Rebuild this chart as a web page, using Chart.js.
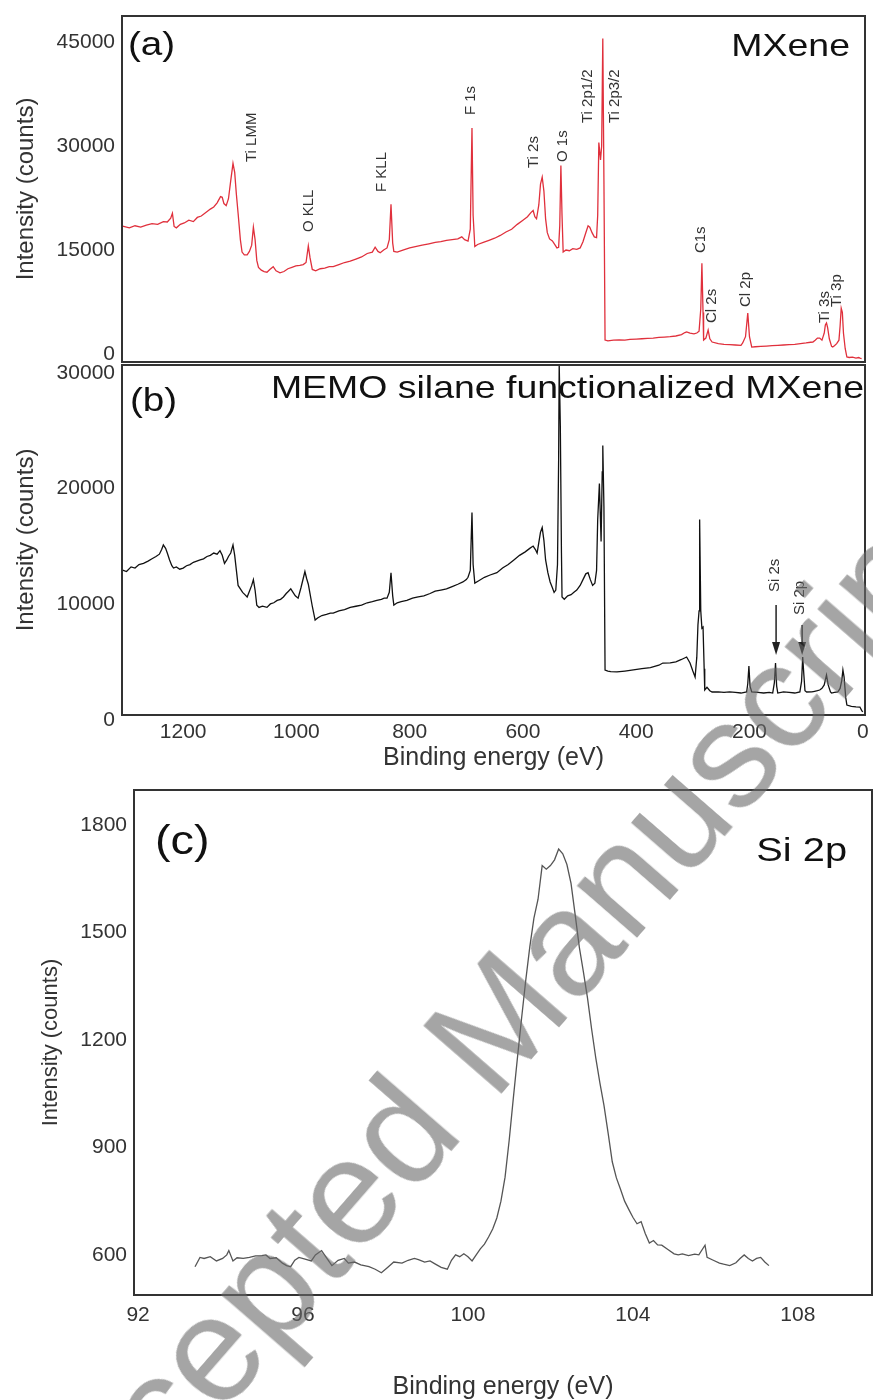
<!DOCTYPE html>
<html><head><meta charset="utf-8">
<script src="https://cdn.jsdelivr.net/npm/chart.js@4.4.1/dist/chart.umd.min.js"></script>
<style>
html,body{margin:0;padding:0;background:#fff;width:873px;height:1400px;overflow:hidden;position:relative;}
canvas{position:absolute;left:0;}
#wm{position:absolute;left:-40px;top:1523px;font-family:"Liberation Sans",Arial,sans-serif;font-size:150px;line-height:1;white-space:nowrap;color:rgba(105,105,105,0.6);transform-origin:0 0;transform:rotate(-49deg);pointer-events:none;}
</style></head><body>
<canvas id="ca" width="873" height="370" style="top:0px"></canvas>
<canvas id="cb" width="873" height="417" style="top:363px"></canvas>
<canvas id="cc" width="873" height="617" style="top:785px"></canvas>
<div id="wm">Accepted Manuscript</div>
<script>
// ---------- tick values ----------
const surveyEnergyTicks = [1200, 1000, 800, 600, 400, 200, 0];
const mxeneCountTicks = [0, 15000, 30000, 45000];
const memoCountTicks = [0, 10000, 20000, 30000];
const si2pEnergyTicks = [92, 96, 100, 104, 108];
const si2pCountTicks = [600, 900, 1200, 1500, 1800];

// ---------- (a) MXene survey ----------
const mxeneEnergy = [1307,1295,1285,1275,1265,1255,1245,1235,1228,1222,1219,1216,1212,1205,1198,1190,1182,1175,1168,1160,1152,1146,1140,1134,1131,1128,1124,1120,1116,1112,1109,1106,1103,1099,1096,1092,1087,1083,1079,1076,1073,1070,1067,1062,1057,1052,1047,1041,1036,1029,1022,1015,1008,1001,994,988,983,979,976,972,966,958,950,942,935,925,915,905,895,885,875,866,861,856,852,846,840,836,833,830,828,822,812,800,790,778,766,755,745,735,725,715,708,703,697,693,690,688,685,680,670,660,650,640,630,620,610,600,592,586,582,579,576,572,569,566,563,560,557,553,548,544,540,537,535,533,531,529,524,518,512,505,499,494,489,485,482,478,474,470,468,466,463,461,459,457,455,450,440,430,420,411,400,390,380,370,360,350,340,330,320,314,311,305,298,293,289,286,284,282,281,277,273,270,266,255,245,235,225,215,212,207,203,200,196,190,180,170,160,150,140,130,120,110,100,92,88,84,80,76,72,68,66,64,62,59,55,53,50,46,42,40,38,36,34,31,28,24,18,12,7,5,2];
const mxeneCounts = [18460,18200,18500,18300,18600,18800,18700,19100,19040,19600,20300,18400,18200,18700,18900,19300,19100,19700,19900,20400,20900,21200,21800,22700,22600,21700,21400,22400,25000,27500,26200,23000,20300,16500,14700,14300,14300,14800,15700,18300,16500,13500,12500,12100,11900,11800,12200,12600,12000,11700,11900,12300,12500,12700,12800,12900,13200,15600,13900,12200,12000,12300,12400,12600,12600,12900,13200,13400,13700,14000,14500,14700,15400,14800,14600,15000,15300,16500,21600,16000,14800,14700,15000,15300,15500,15700,15900,16100,16200,16400,16500,16600,16900,16500,16300,18000,32600,20000,15500,15800,16100,16400,16700,17100,17600,18000,18700,19300,19800,20400,20700,19800,19500,21500,24500,25500,23500,19500,17500,16600,16300,15800,15300,15400,18500,27200,20000,14700,15000,14900,15200,15100,15300,16200,17500,18500,18300,17500,16900,16800,20000,30500,28000,30000,45500,25000,2020,1900,2000,2050,2000,2100,2150,2200,2250,2300,2400,2450,2500,2600,2800,3100,3200,3000,2900,3030,3300,6500,13100,6000,2020,2300,3460,2200,1730,1500,1400,1350,1300,1250,1590,2500,5900,2500,1010,1050,1100,1150,1200,1250,1300,1350,1400,1500,1600,1700,1730,2000,2300,2300,2000,3000,4200,4470,3800,2200,1100,1010,1200,1500,2000,4000,6600,6000,3000,800,-430,-500,-450,-580,-500,-580,-650];

// ---------- (b) MEMO silane functionalized MXene survey ----------
const memoEnergy = [1307,1300,1292,1285,1278,1270,1262,1255,1248,1242,1238,1235,1231,1228,1224,1220,1217,1212,1206,1200,1194,1188,1182,1176,1170,1164,1158,1152,1146,1140,1135,1131,1127,1123,1120,1116,1112,1109,1106,1103,1099,1095,1091,1087,1083,1079,1076,1073,1070,1066,1060,1052,1046,1040,1034,1028,1023,1018,1014,1010,1006,1002,997,992,988,985,982,979,976,972,967,962,955,947,940,935,925,915,905,895,885,875,866,858,850,845,840,836,833,830,828,822,815,805,795,785,775,764,755,745,735,725,715,706,700,697,693,690,688,685,678,668,658,646,636,626,616,606,596,588,582,578,575,572,569,566,563,560,556,552,548,545,542,539,537,536,534,532,531,527,521,515,510,505,499,494,489,485,481,477,473,470,468,465,462,460,459,457,455,450,445,434,420,405,390,375,360,353,340,330,320,311,305,300,296,293,291,289,288,286,284,282,280,279,275,270,266,255,245,235,225,215,205,203,201,199,196,185,175,165,159,156,154,152,150,140,130,120,111,108,106,104,102,99,90,85,80,76,72,68,64,61,57,55,50,44,40,37,35,33,30,28,20,12,5,2,0];
const memoCounts = [12530,12400,12800,12700,13000,13100,13300,13500,13700,13900,14300,14700,14400,14000,13400,12900,12700,12800,12600,12700,12900,13000,13200,13300,13400,13500,13700,13800,14000,13900,14200,13800,13100,13400,13700,14000,14700,13800,12500,11200,10900,10600,10400,10200,10700,11200,11700,10800,9500,9300,9400,9300,9600,9700,9900,10000,10200,10500,10700,10900,10600,10300,10100,11000,11800,12400,11800,11300,10500,9400,8200,8400,8600,8700,8800,8800,9000,9100,9300,9400,9500,9700,9800,9900,10000,10100,10100,10600,12300,10300,9500,9700,9800,9900,10100,10200,10300,10500,10700,10800,10900,11100,11300,11500,11700,11900,12500,17500,13000,11400,11600,11900,12100,12300,12700,13000,13400,13800,14100,14400,14600,14300,14000,14900,15800,16200,15100,13400,12300,11500,11000,10600,10800,13000,22000,30400,25000,14000,10200,10000,10300,10400,10600,10800,11200,11700,12200,12300,11700,11200,11400,12500,16900,20000,15000,21000,23300,18000,3890,3800,3750,3720,3800,3900,4000,4100,4300,4490,4500,4600,4800,5010,4500,3800,3280,5000,7780,9000,16900,9000,7500,7600,4000,2160,2400,2100,1990,2000,1950,2000,1950,1900,1990,2700,4230,2500,1990,1950,1900,1950,1900,2800,4490,2500,1900,2000,1950,1900,1990,2900,5000,3500,2100,1990,2000,2050,2100,2160,2300,2600,3460,2600,2000,1900,1950,1990,2300,3000,3890,3300,1500,860,750,700,690,400,260];

// ---------- (c) Si 2p high-resolution ----------
const si2pEnergy = [93.38,93.5,93.6,93.75,93.9,94.05,94.15,94.2,94.3,94.4,94.55,94.7,94.85,95.0,95.1,95.2,95.35,95.5,95.6,95.7,95.8,95.9,96.05,96.2,96.3,96.45,96.55,96.7,96.85,97.0,97.1,97.25,97.4,97.6,97.75,97.9,98.05,98.2,98.4,98.55,98.7,98.8,98.95,99.08,99.2,99.35,99.5,99.6,99.7,99.8,99.9,100.0,100.1,100.2,100.3,100.4,100.5,100.6,100.7,100.8,100.9,101.0,101.1,101.2,101.3,101.4,101.5,101.6,101.7,101.8,101.9,102.0,102.1,102.2,102.3,102.4,102.5,102.6,102.7,102.8,102.9,103.0,103.1,103.2,103.3,103.4,103.5,103.6,103.7,103.8,103.9,104.0,104.1,104.2,104.3,104.4,104.5,104.6,104.7,104.85,105.0,105.1,105.2,105.35,105.5,105.6,105.75,105.8,105.95,106.1,106.2,106.35,106.5,106.6,106.7,106.8,106.9,107.0,107.1,107.2,107.3];
const si2pCounts = [567,593,590,595,583,590,600,612,583,592,590,593,597,598,600,590,592,577,570,567,585,593,588,583,600,612,595,570,585,590,577,580,572,567,560,550,565,580,577,585,590,587,580,583,575,565,560,585,600,595,603,595,583,600,617,630,650,672,703,750,817,920,1037,1150,1260,1365,1460,1540,1593,1687,1677,1687,1703,1733,1720,1690,1637,1550,1460,1390,1317,1230,1150,1080,1017,940,860,815,783,750,727,705,687,693,660,633,640,628,627,615,603,600,603,598,602,600,627,593,585,577,574,570,578,590,600,590,583,590,593,580,570];

// ---------- peak annotations ----------
const mxenePeakNames = ['Ti LMM','O KLL','F KLL','F 1s','Ti 2s','O 1s','Ti 2p1/2','Ti 2p3/2','C1s','Cl 2s','Cl 2p','Ti 3s','Ti 3p'];
const mxenePeakEnergies = [1078, 978, 849, 692, 580, 529, 485, 437, 286, 266, 206, 67, 45];
const mxenePeakLabelCounts = [27690, 17590, 23360, 34460, 26820, 27690, 33310, 33310, 14560, 4470, 6780, 4470, 6780];
const memoPeakNames = ['Si 2s','Si 2p'];
const memoPeakEnergies = [155, 111];
const memoPeakLabelCounts = [10630, 8640];
const memoArrowEnergies = [153, 107];
const memoArrowStartCounts = [9500, 7780];
const memoArrowTipCounts = [5180, 5180];

// ---------- helpers ----------
const FONT = '"Liberation Sans", Arial, Helvetica, sans-serif';
const AXIS = '#333';
const SX = 1.17;
function pts(xs, ys){ return xs.map((x,i)=>({x:x, y:ys[i]})); }
function stretchText(ctx, text, x, y, size, align){
  ctx.save(); ctx.translate(x, y); ctx.scale(SX, 1);
  ctx.font = size + 'px ' + FONT; ctx.fillStyle = '#111';
  ctx.textAlign = align; ctx.textBaseline = 'alphabetic';
  ctx.fillText(text, 0, 0); ctx.restore();
}
function vertLabel(ctx, text, x, yBottom){
  ctx.save(); ctx.translate(x, yBottom); ctx.rotate(-Math.PI/2);
  ctx.font = '15px ' + FONT; ctx.fillStyle = '#333';
  ctx.textAlign = 'left'; ctx.textBaseline = 'middle';
  ctx.fillText(text, 0, 0); ctx.restore();
}
function noPad(s){ s.paddingTop = 0; s.paddingBottom = 0; s.paddingLeft = 0; s.paddingRight = 0; }
const framePlugin = {
  id: 'frame',
  afterDraw(chart){
    const {ctx, chartArea:a} = chart;
    ctx.save(); ctx.strokeStyle = AXIS; ctx.lineWidth = 2;
    ctx.strokeRect(a.left, a.top, a.right - a.left, a.bottom - a.top);
    ctx.restore();
  }
};
function panelPlugin(cfg){
  return {
    id: 'panel',
    afterDatasetsDraw(chart){
      const {ctx, chartArea:a} = chart;
      stretchText(ctx, cfg.letter, a.left + cfg.lx, a.top + cfg.ly, cfg.lsize, 'left');
      stretchText(ctx, cfg.title, a.right - cfg.tx, a.top + cfg.ty, cfg.tsize, 'right');
      if (cfg.extra) cfg.extra(chart);
    }
  };
}
function yScale(min, max, ticks, width, titleSize, titlePad, labelOffset){
  return {
    type: 'linear', min: min, max: max,
    afterBuildTicks(s){ s.ticks = ticks.map(v=>({value:v})); },
    afterFit(s){ s.width = width; noPad(s); },
    grid: {display:false, drawTicks:false}, border: {display:false},
    ticks: {color: AXIS, font:{family:FONT, size:21}, padding:7, labelOffset: labelOffset, callback:(v)=>String(v)},
    title: {display:true, text:'Intensity (counts)', color: AXIS, font:{family:FONT, size:titleSize}, padding:{top:titlePad, bottom:0}}
  };
}
function baseOptions(pad, scales){
  return {
    responsive:false, animation:false, events:[],
    layout:{padding: pad},
    plugins:{legend:{display:false}, tooltip:{enabled:false}},
    elements:{point:{radius:0}, line:{tension:0}},
    scales: scales
  };
}

// ---------- (a) ----------
new Chart(document.getElementById('ca'), {
  type:'line',
  data:{datasets:[{data:pts(mxeneEnergy, mxeneCounts), borderColor:'#e0303c', borderWidth:1.3}]},
  options: baseOptions({left:0, right:8, top:16, bottom:0}, {
    x:{type:'linear', reverse:true, min:-4, max:1308,
       afterBuildTicks(s){ s.ticks = surveyEnergyTicks.map(v=>({value:v})); },
       afterFit(s){ s.height = 8; noPad(s); },
       grid:{display:false, drawTicks:false}, border:{display:false}, ticks:{display:false}},
    y: yScale(-1150, 48750, mxeneCountTicks, 122, 24, 12, 0)
  }),
  plugins:[framePlugin, panelPlugin({letter:'(a)', lx:6, ly:39, lsize:33, title:'MXene', tx:15, ty:40, tsize:32,
    extra(chart){
      const xs = chart.scales.x, ys = chart.scales.y;
      mxenePeakNames.forEach((n,i)=> vertLabel(chart.ctx, n, xs.getPixelForValue(mxenePeakEnergies[i]), ys.getPixelForValue(mxenePeakLabelCounts[i])));
    }})]
});

// ---------- (b) ----------
new Chart(document.getElementById('cb'), {
  type:'line',
  data:{datasets:[{data:pts(memoEnergy, memoCounts), borderColor:'#111', borderWidth:1.3}]},
  options: baseOptions({left:0, right:8, top:2, bottom:0}, {
    x:{type:'linear', reverse:true, min:-4, max:1308,
       afterBuildTicks(s){ s.ticks = surveyEnergyTicks.map(v=>({value:v})); },
       afterFit(s){ s.height = 65; noPad(s); },
       grid:{display:false, drawTicks:false}, border:{display:false},
       ticks:{color:AXIS, font:{family:FONT, size:21}, padding:5, maxRotation:0, autoSkip:false, callback:(v)=>String(v)},
       title:{display:true, text:'Binding energy (eV)', color:AXIS, font:{family:FONT, size:25}, padding:{top:0, bottom:7}}},
    y: yScale(0, 30250, memoCountTicks, 122, 24, 12, 5)
  }),
  plugins:[framePlugin, panelPlugin({letter:'(b)', lx:8, ly:46, lsize:33, title:'MEMO silane functionalized MXene', tx:1, ty:33, tsize:32,
    extra(chart){
      const ctx = chart.ctx, xs = chart.scales.x, ys = chart.scales.y;
      memoPeakNames.forEach((n,i)=> vertLabel(ctx, n, xs.getPixelForValue(memoPeakEnergies[i]), ys.getPixelForValue(memoPeakLabelCounts[i])));
      memoArrowEnergies.forEach((e,i)=>{
        const x = xs.getPixelForValue(e), y0 = ys.getPixelForValue(memoArrowStartCounts[i]), y1 = ys.getPixelForValue(memoArrowTipCounts[i]);
        ctx.save(); ctx.strokeStyle = '#222'; ctx.fillStyle = '#222'; ctx.lineWidth = 1.5;
        ctx.beginPath(); ctx.moveTo(x, y0); ctx.lineTo(x, y1 - 10); ctx.stroke();
        ctx.beginPath(); ctx.moveTo(x - 4, y1 - 13); ctx.lineTo(x + 4, y1 - 13); ctx.lineTo(x, y1); ctx.closePath(); ctx.fill();
        ctx.restore();
      });
    }})]
});

// ---------- (c) ----------
new Chart(document.getElementById('cc'), {
  type:'line',
  data:{datasets:[{data:pts(si2pEnergy, si2pCounts), borderColor:'#555', borderWidth:1.3}]},
  options: baseOptions({left:0, right:1, top:5, bottom:0}, {
    x:{type:'linear', min:91.9, max:109.8,
       afterBuildTicks(s){ s.ticks = si2pEnergyTicks.map(v=>({value:v})); },
       afterFit(s){ s.height = 107; noPad(s); },
       grid:{display:false, drawTicks:false}, border:{display:false},
       ticks:{color:AXIS, font:{family:FONT, size:21}, padding:8, maxRotation:0, autoSkip:false, callback:(v)=>String(v)},
       title:{display:true, text:'Binding energy (eV)', color:AXIS, font:{family:FONT, size:25}, padding:{top:0, bottom:0}}},
    y: yScale(488, 1898, si2pCountTicks, 134, 22, 38, 0)
  }),
  plugins:[framePlugin, panelPlugin({letter:'(c)', lx:21, ly:64, lsize:40, title:'Si 2p', tx:25, ty:71, tsize:34})]
});
</script>
</body></html>
